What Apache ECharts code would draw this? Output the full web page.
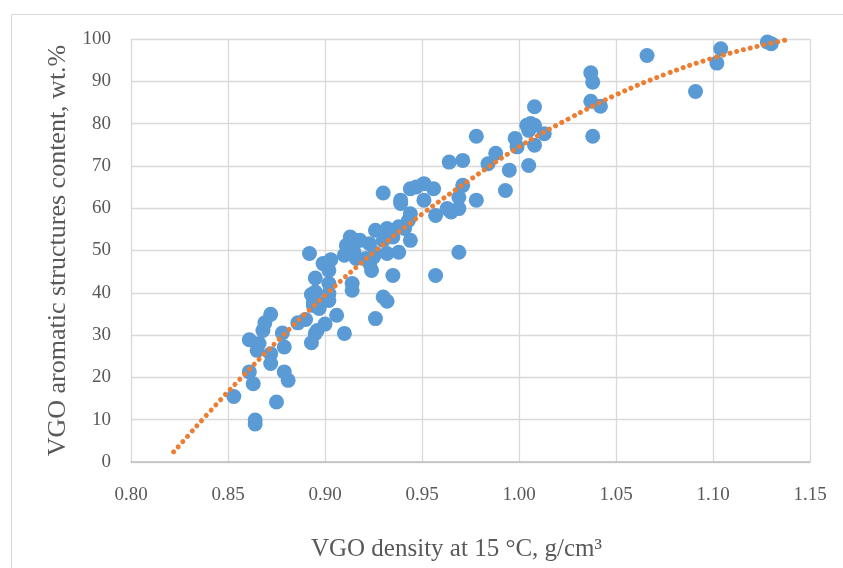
<!DOCTYPE html>
<html>
<head>
<meta charset="utf-8">
<script src="https://cdn.jsdelivr.net/npm/echarts@6/dist/echarts.min.js"></script>
<style>
html,body{margin:0;padding:0;background:#fff;}
#chart{width:843px;height:568px;}
</style>
</head>
<body>
<div id="chart"></div>
<script>
// Scatter data: VGO density (g/cm3) and aromatic structures content (wt.%)
var densityX = [
  0.853,0.864,0.864,0.875,0.879,0.881,0.861,0.863,0.872,0.869,
  0.868,0.861,0.865,0.866,0.878,0.879,0.872,0.872,0.886,0.890,
  0.894,0.897,0.895,0.893,0.900,0.892,0.899,0.903,0.902,0.895,
  0.895,0.893,0.902,0.902,0.902,0.894,0.897,0.906,0.896,0.910,
  0.914,0.914,0.913,0.916,0.923,0.925,0.926,0.930,0.944,0.947,
  0.951,0.956,0.939,0.939,0.951,0.957,0.944,0.943,0.944,0.941,
  0.938,0.932,0.926,0.918,0.923,0.930,0.935,0.910,0.916,0.921,
  0.926,0.932,0.938,0.924,0.935,0.957,0.930,0.932,0.969,0.978,
  0.964,0.971,0.988,0.984,0.998,0.999,1.004,1.006,1.008,1.008,
  1.005,1.008,1.013,0.995,1.005,0.993,0.978,0.969,0.969,0.971,
  0.963,0.965,1.037,1.038,1.037,1.042,1.038,1.066,1.091,1.104,
  1.102,1.128,1.130,0.915,0.911
];
var aromaticY = [
  15.5,9.9,9.0,14.2,21.3,19.3,21.3,18.5,34.9,32.9,
  31.1,28.9,26.4,28.0,30.5,27.2,23.3,25.6,32.9,33.7,
  37.0,37.5,30.4,28.2,32.6,49.3,46.9,47.8,45.3,43.5,
  40.2,39.6,42.2,39.8,38.2,37.8,36.3,34.7,31.1,30.4,
  42.2,40.6,53.2,52.4,46.9,48.5,33.9,63.6,64.6,65.0,
  65.8,64.6,61.9,61.1,61.9,58.3,58.7,57.1,52.4,55.2,
  55.6,55.2,54.8,52.4,51.6,52.4,53.2,48.9,48.1,48.1,
  49.3,49.3,49.6,45.3,44.1,44.1,39.0,38.0,49.6,77.0,
  70.9,71.3,73.0,70.5,76.5,74.5,79.6,80.0,79.6,84.0,
  78.4,74.9,77.6,69.0,70.1,64.2,61.9,62.6,59.9,65.4,
  59.9,59.1,92.0,89.8,85.3,84.1,77.0,96.1,87.6,97.7,
  94.3,99.3,98.9,49.6,51.2
];
// Trendline
var trendX = [0.822,0.85,0.875,0.90,0.925,0.95,0.975,1.00,1.025,1.05,1.075,1.10,1.125,1.139];
var trendY = [2.4,16.6,28.4,39.4,49.5,58.6,66.8,74.5,81.0,86.8,91.6,95.5,98.5,99.9];
// Axis ticks
var xMin = 0.80, xMax = 1.15, xStep = 0.05;
var yMin = 0, yMax = 100, yStep = 10;

var xTitle = 'VGO density at 15 °C, g/cm³';
var yTitle = 'VGO aromatic structures content, wt.%';

var scatterData = densityX.map(function(x,i){return [x, aromaticY[i]];});
var trendData = trendX.map(function(x,i){return [x, trendY[i]];});

var FONT = 'Liberation Serif';
var chart = echarts.init(document.getElementById('chart'), null, {renderer:'canvas'});
chart.setOption({
  animation:false,
  backgroundColor:'#ffffff',
  graphic:[{
    type:'rect', left:9, top:12, silent:true,
    shape:{x:0,y:0,width:900,height:620},
    style:{fill:'none', stroke:'#d9d9d9', lineWidth:1}
  }],
  grid:{left:131, right:33, top:39, bottom:106, containLabel:false},
  xAxis:{
    type:'value', min:xMin, max:xMax, interval:xStep,
    name:xTitle, nameLocation:'middle', nameGap:75,
    nameTextStyle:{fontFamily:FONT, fontSize:25, color:'#595959', padding:[0,28,0,0]},
    axisLine:{show:true, lineStyle:{color:'#bfbfbf', width:1.5}},
    axisTick:{show:false},
    axisLabel:{fontFamily:FONT, fontSize:19, color:'#595959', margin:24,
      formatter:function(v){return v.toFixed(2);}},
    splitLine:{show:true, lineStyle:{color:'#d9d9d9', width:1.3}}
  },
  yAxis:{
    type:'value', min:yMin, max:yMax, interval:yStep,
    name:yTitle, nameLocation:'middle', nameGap:55, nameRotate:90,
    nameTextStyle:{fontFamily:FONT, fontSize:26, color:'#595959'},
    axisLine:{show:false}, axisTick:{show:false},
    axisLabel:{fontFamily:FONT, fontSize:19, color:'#595959', margin:20},
    splitLine:{show:true, lineStyle:{color:'#d9d9d9', width:1.3}}
  },
  series:[
    {type:'scatter', data:scatterData, symbolSize:15, z:2,
     itemStyle:{color:'#5B9BD5', opacity:1}},
    {type:'line', data:trendData, smooth:0.4, showSymbol:false, z:3,
     lineStyle:{color:'#ED7D31', width:5, type:[0.01,7], cap:'round'}}
  ]
});
</script>
</body>
</html>
